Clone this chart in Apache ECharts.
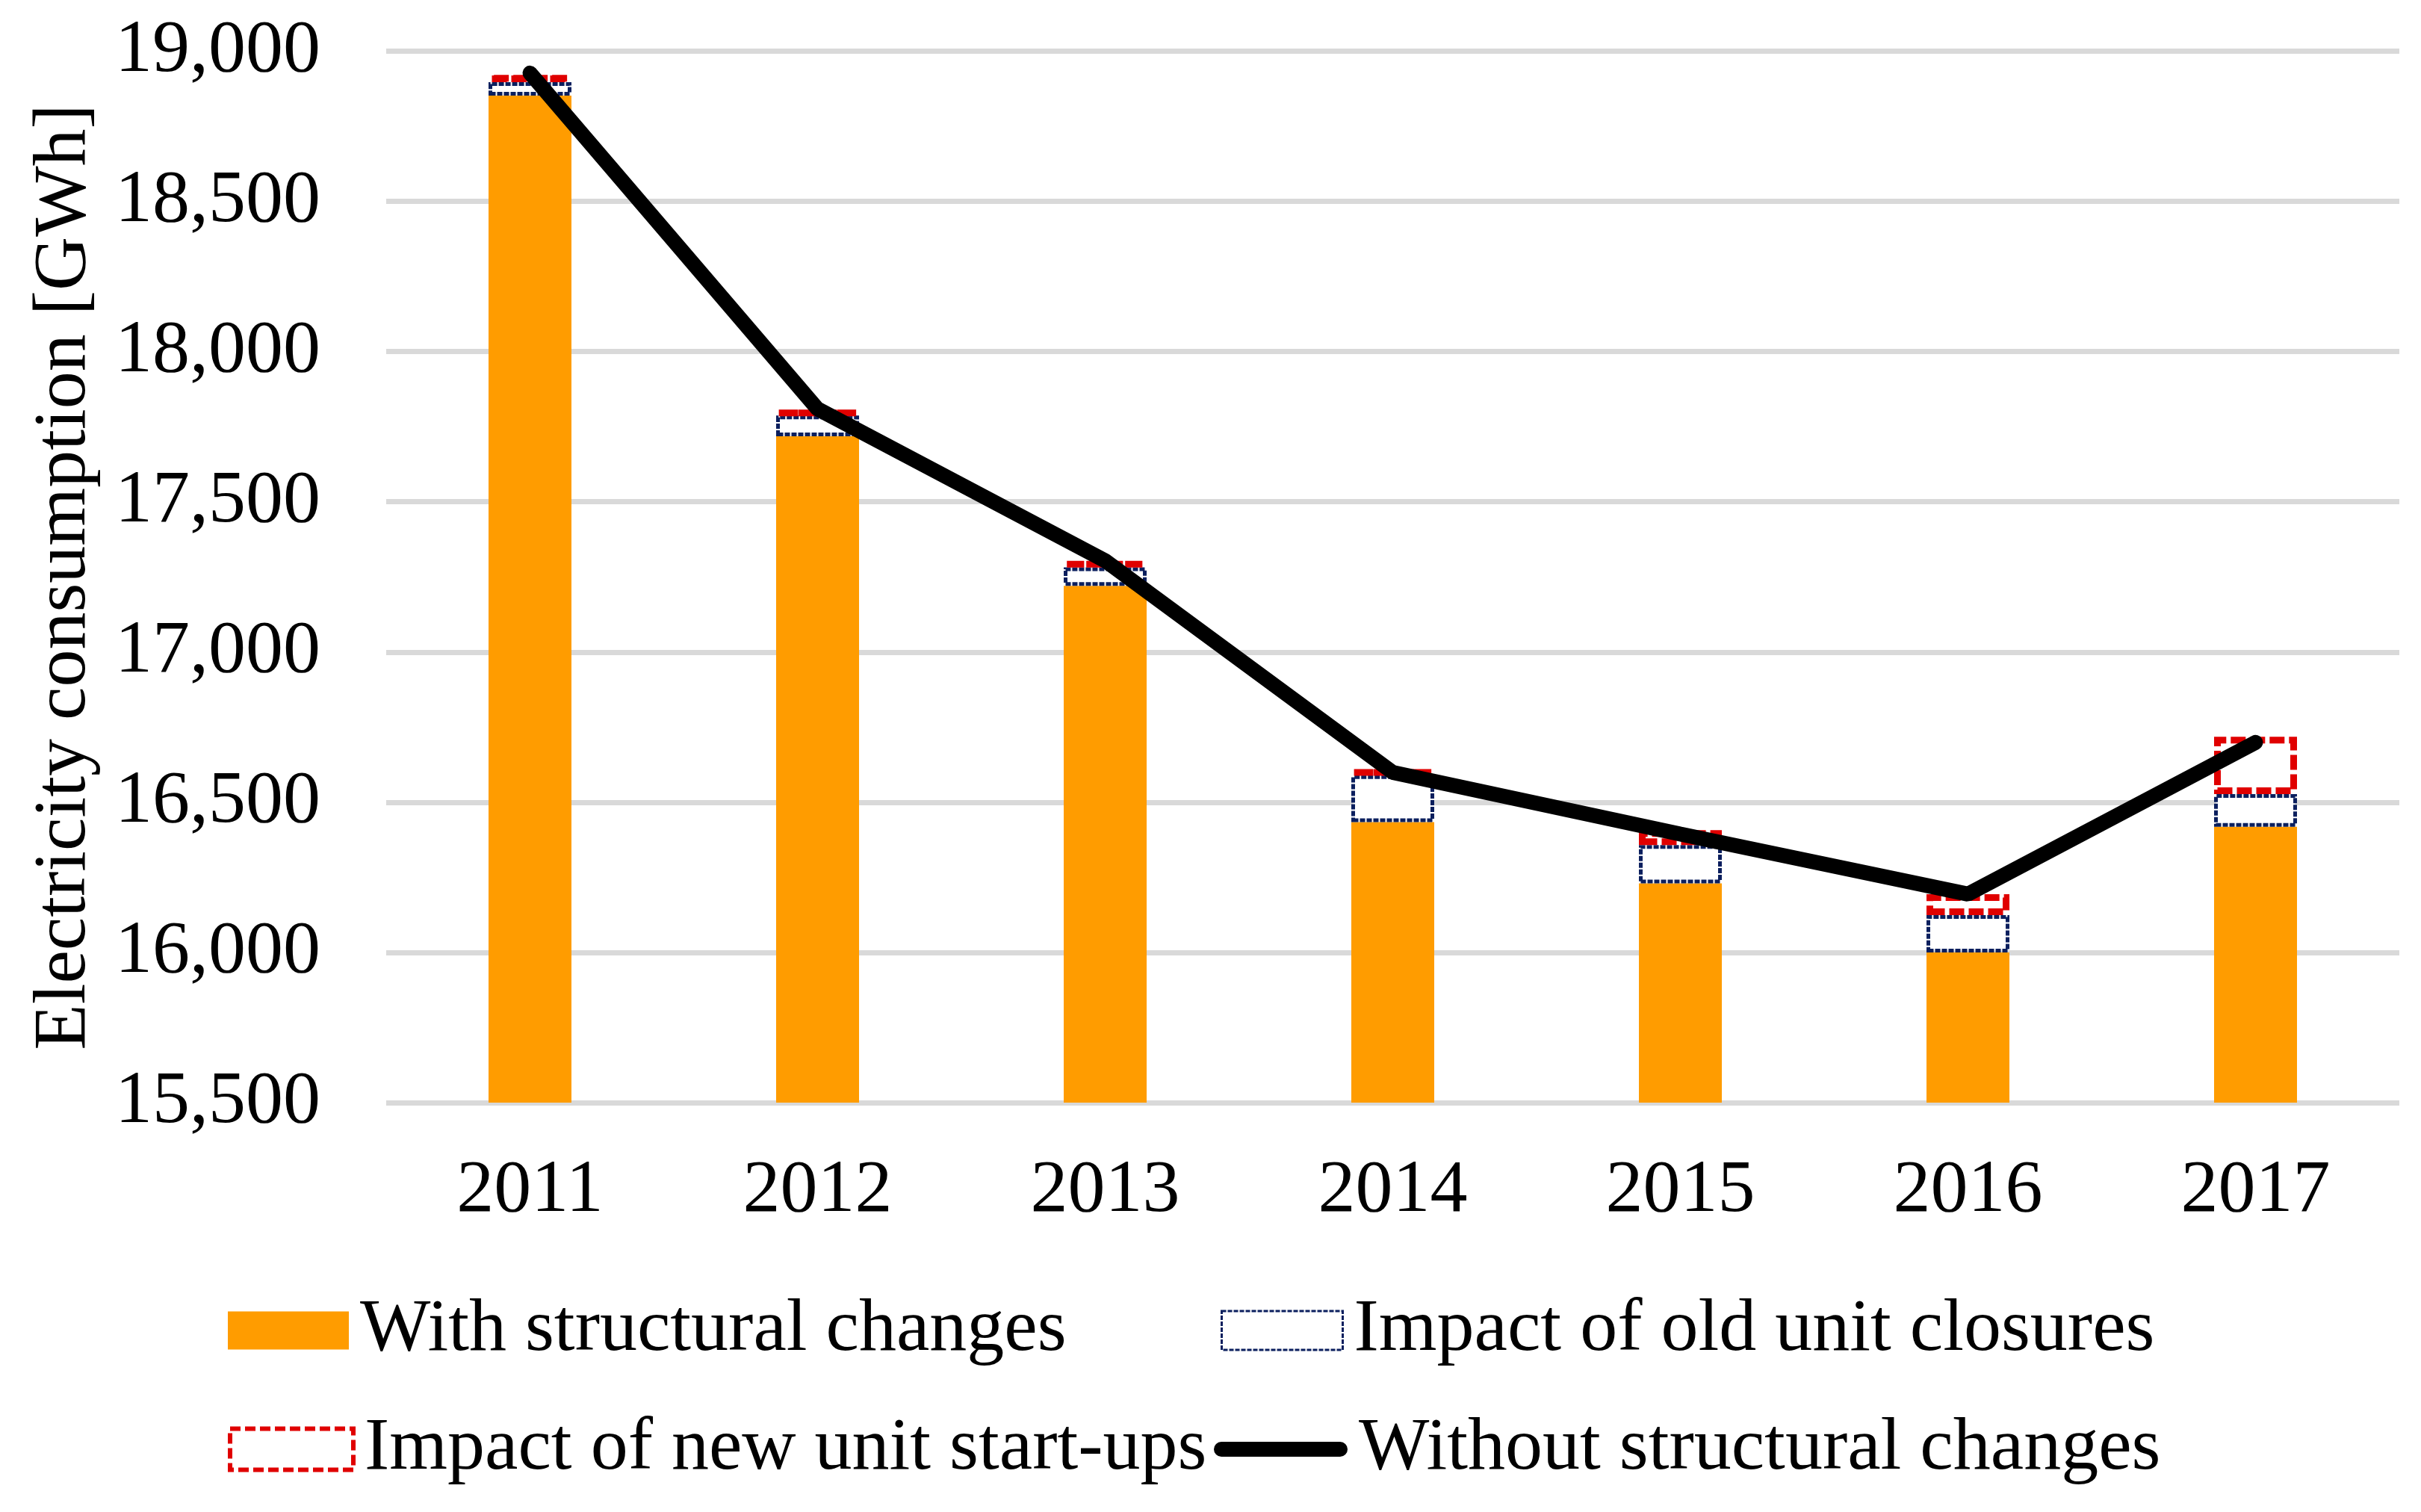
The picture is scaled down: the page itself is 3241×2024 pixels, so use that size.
<!DOCTYPE html>
<html><head><meta charset="utf-8">
<script src="https://cdn.jsdelivr.net/npm/echarts/dist/echarts.min.js"></script>
<style>html,body{margin:0;padding:0;background:#fff}#c{width:3241px;height:2024px}</style>
</head><body><div id="c"></div>
<script>
const years = ['2011','2012','2013','2014','2015','2016','2017'];
const withStructural = [18852, 17718, 17220, 16434, 16230, 16000, 16418];
const oldClosures = [45, 69, 62, 156, 127, 124, 109];
const newStartups = [24, 18, 21, 18, 50, 70, 191];
const withoutStructural = [18927, 17809, 17304, 16599, 16394, 16194, 16699];
const names = ['With structural changes','Impact of old unit closures','Impact of new unit start-ups','Without structural changes'];
const yAxisTitle = 'Electricity consumption [GWh]';

const FONT = "'Liberation Serif','Times New Roman',serif";
const ORANGE = '#FF9C00', NAVY = '#0B1F5E', RED = '#E00000';

function leg(item, left, top, w, h) {
  return {
    show: true, selectedMode: false, left: left, top: top, padding: 0,
    itemWidth: w, itemHeight: h, itemGap: 0, orient: 'horizontal',
    textStyle: {fontFamily: FONT, fontSize: 100, color: '#000', padding: [0, 0, 0, 10]},
    data: [item]
  };
}

const chart = echarts.init(document.getElementById('c'), null, {renderer: 'canvas'});
chart.setOption({
  backgroundColor: '#fff',
  animation: false,
  grid: {left: 517, right: 29, top: 68.5, bottom: 548, containLabel: false, outerBoundsMode: 'none'},
  xAxis: {
    type: 'category', data: years,
    axisLine: {show: false}, axisTick: {show: false},
    axisLabel: {fontFamily: FONT, fontSize: 100, color: '#000', margin: 69}
  },
  yAxis: {
    type: 'value', min: 15500, max: 19000, interval: 500,
    name: yAxisTitle, nameLocation: 'middle', nameRotate: 90, nameGap: 380,
    nameTextStyle: {fontFamily: FONT, fontSize: 100, color: '#000'},
    axisLine: {show: false}, axisTick: {show: false},
    axisLabel: {fontFamily: FONT, fontSize: 100, color: '#000', margin: 88,
      formatter: v => v.toLocaleString('en-US')},
    splitLine: {lineStyle: {color: '#D9D9D9', width: 7}}
  },
  legend: [
    leg({name: names[0], icon: 'rect', itemStyle: {color: ORANGE, borderWidth: 0}}, 305, 1731, 162, 51),
    leg({name: names[1], icon: 'rect', itemStyle: {color: '#fff', borderColor: NAVY, borderWidth: 3, borderType: [6, 2]}}, 1634, 1731, 162, 52),
    leg({name: names[2], icon: 'rect', itemStyle: {color: '#fff', borderColor: RED, borderWidth: 6, borderType: [14, 6]}}, 305, 1890, 165, 55),
    leg({name: names[3], icon: 'path://M10,0 L169,0 A10,10 0 0 1 169,20 L10,20 A10,10 0 0 1 10,0 Z', itemStyle: {color: '#000', borderWidth: 0}}, 1625, 1890, 179, 20)
  ],
  series: [
    {name: names[0], type: 'bar', stack: 's', data: withStructural, barWidth: 111,
      itemStyle: {color: ORANGE}},
    {name: names[1], type: 'bar', stack: 's', data: oldClosures, barWidth: 111,
      itemStyle: {color: '#fff', borderColor: NAVY, borderWidth: 5, borderType: [7, 2]}},
    {name: names[2], type: 'bar', stack: 's', data: newStartups, barWidth: 111,
      itemStyle: {color: '#fff', borderColor: RED, borderWidth: 9, borderType: [20, 6]}},
    {name: names[3], type: 'line', data: withoutStructural, symbol: 'none', z: 5,
      lineStyle: {color: '#000', width: 20, cap: 'round', join: 'bevel'}}
  ]
});
</script></body></html>
